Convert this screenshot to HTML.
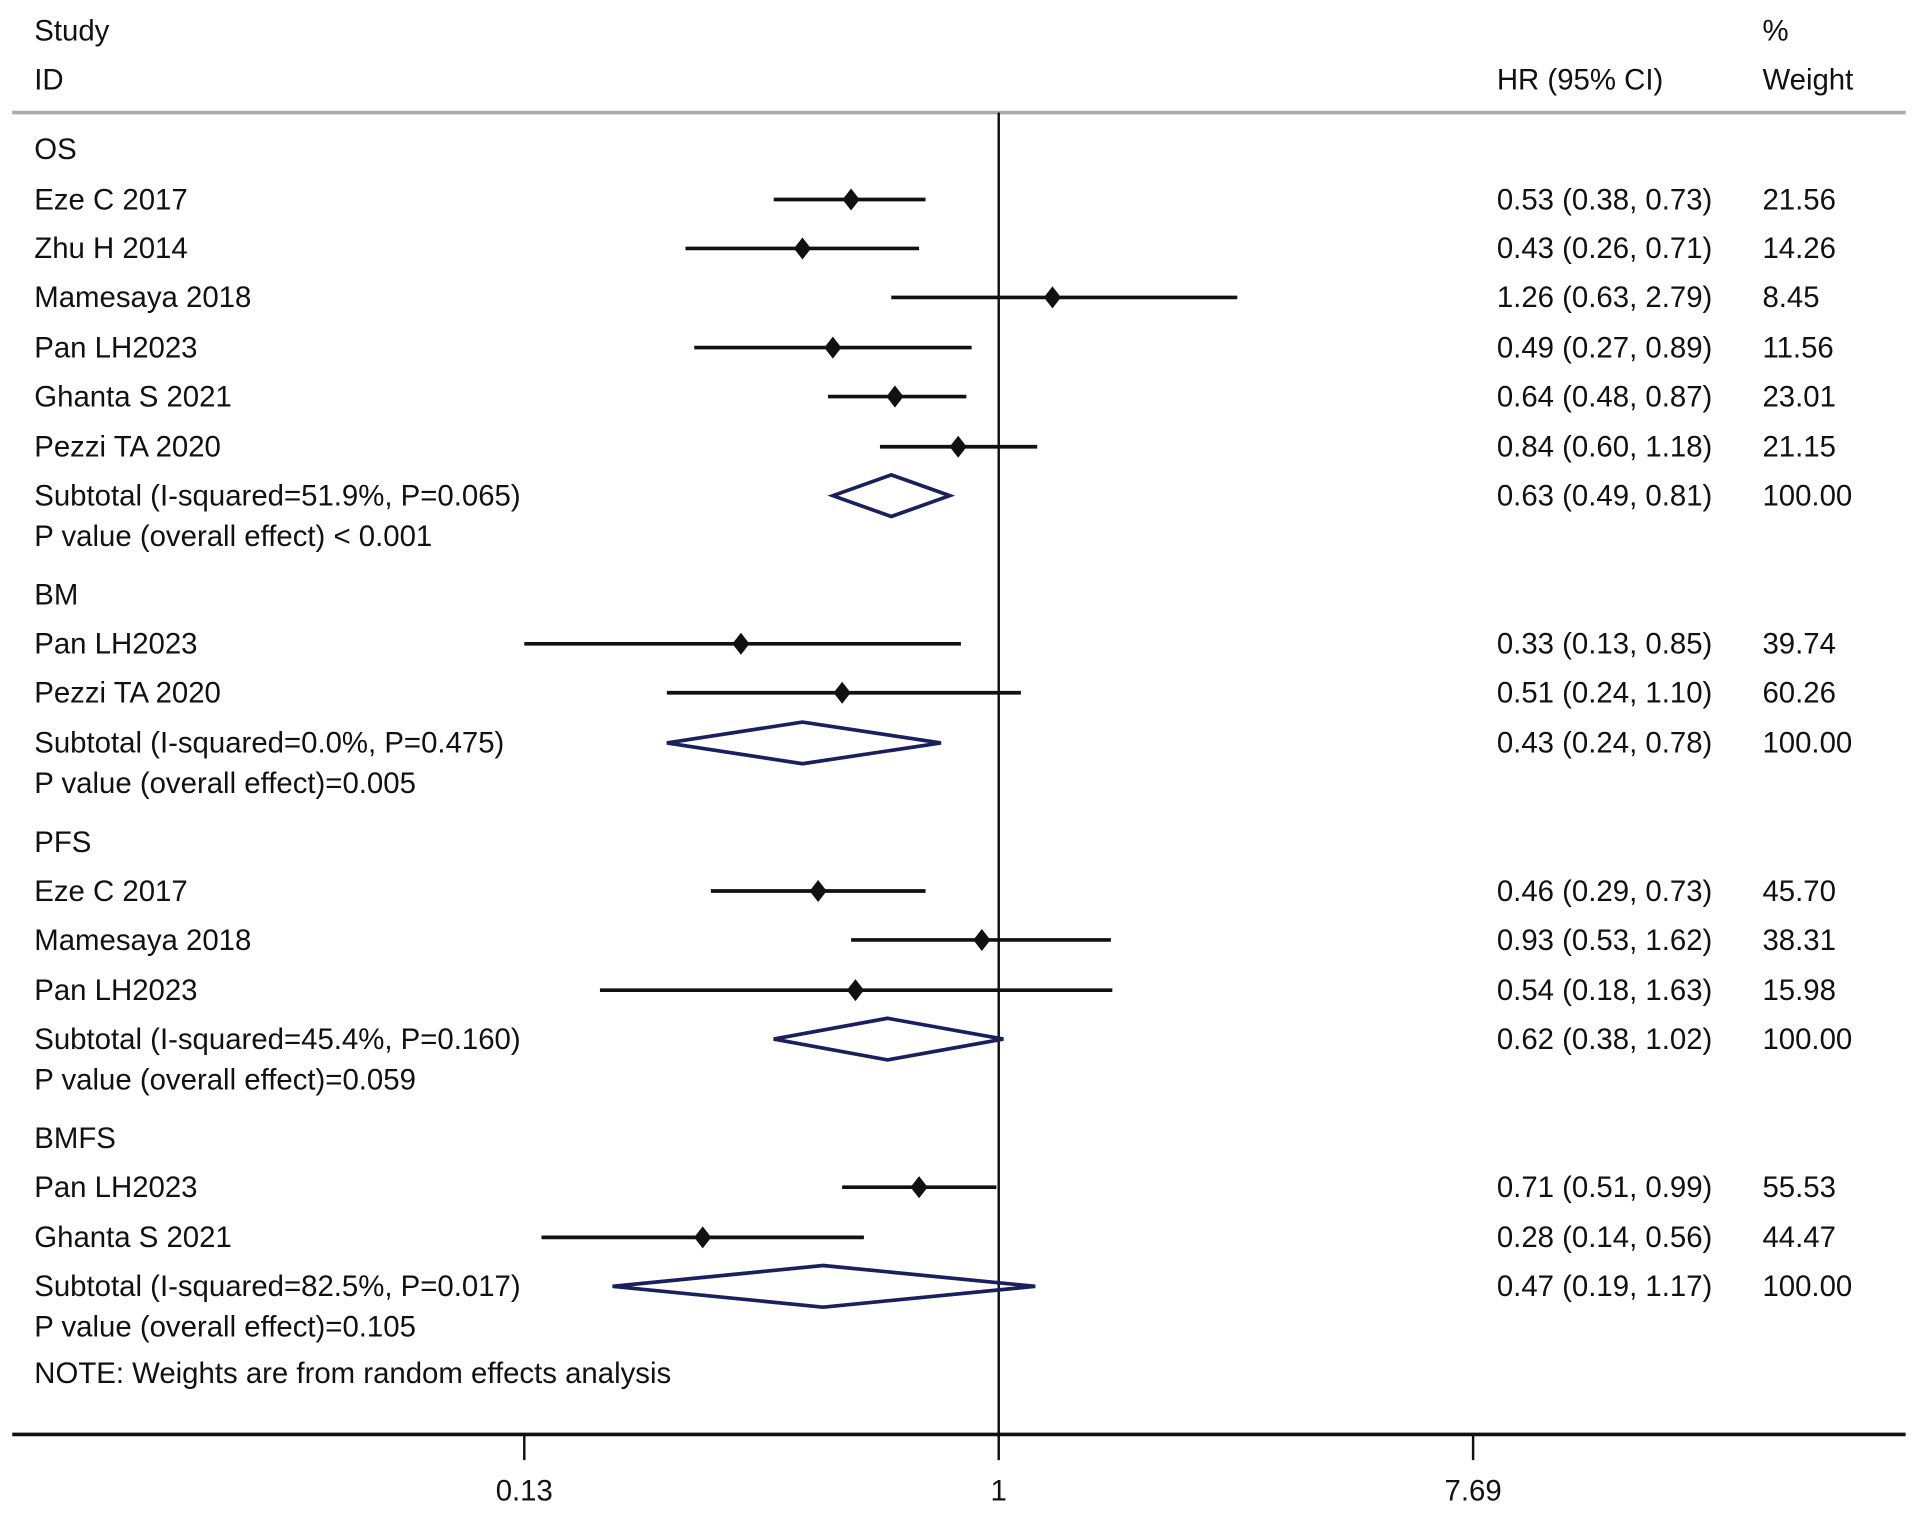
<!DOCTYPE html>
<html><head><meta charset="utf-8"><style>
html,body{margin:0;padding:0;background:#fff;}
svg{display:block;}
text{font-family:"Liberation Sans",Arial,sans-serif;font-size:24px;fill:#111;}
</style></head><body>
<svg id="chart" width="1913" height="1525" viewBox="0 0 1563 1246" xmlns="http://www.w3.org/2000/svg">
<text x="28" y="33">Study</text>
<text x="28" y="73">ID</text>
<text x="1223" y="73">HR (95% CI)</text>
<text x="1440" y="33">%</text>
<text x="1440" y="73">Weight</text>
<line x1="10" y1="92" x2="1557" y2="92" stroke="#aaa" stroke-width="3"/>
<g id="marks"></g>
</svg>
<script>
const rowLabels = ["OS","Eze C 2017","Zhu H 2014","Mamesaya 2018","Pan LH2023","Ghanta S 2021","Pezzi TA 2020","Subtotal  (I-squared=51.9%, P=0.065)","P value (overall effect) < 0.001","BM","Pan LH2023","Pezzi TA 2020","Subtotal  (I-squared=0.0%, P=0.475)","P value (overall effect)=0.005","PFS","Eze C 2017","Mamesaya 2018","Pan LH2023","Subtotal  (I-squared=45.4%, P=0.160)","P value (overall effect)=0.059","BMFS","Pan LH2023","Ghanta S 2021","Subtotal  (I-squared=82.5%, P=0.017)","P value (overall effect)=0.105","NOTE: Weights are from random effects analysis"];
const rowTypes = ["h","s","s","s","s","s","s","d","p","h","s","s","d","p","h","s","s","s","d","p","h","s","s","d","p","n"];
const rowY = [122,163,203,243,284,324,365,405,438,486,526,566,607,640,688,728,768,809,849,882,930,970,1011,1051,1084,1122];
const hr = [null,0.53,0.43,1.26,0.49,0.64,0.84,0.63,null,null,0.33,0.51,0.43,null,null,0.46,0.93,0.54,0.62,null,null,0.71,0.28,0.47,null,null];
const lo = [null,0.38,0.26,0.63,0.27,0.48,0.60,0.49,null,null,0.13,0.24,0.24,null,null,0.29,0.53,0.18,0.38,null,null,0.51,0.14,0.19,null,null];
const hi = [null,0.73,0.71,2.79,0.89,0.87,1.18,0.81,null,null,0.85,1.10,0.78,null,null,0.73,1.62,1.63,1.02,null,null,0.99,0.56,1.17,null,null];
const weights = [null,"21.56","14.26","8.45","11.56","23.01","21.15","100.00",null,null,"39.74","60.26","100.00",null,null,"45.70","38.31","15.98","100.00",null,null,"55.53","44.47","100.00",null,null];
const tickVals = [0.13,1,7.69];
const tickLabels = ["0.13","1","7.69"];

const X0=816, PX=190;
const xs = v => X0 + Math.log(v)*PX;
const g = document.getElementById('marks');
const NS="http://www.w3.org/2000/svg";
function mk(tag, attrs){const e=document.createElementNS(NS,tag);for(const k in attrs)e.setAttribute(k,attrs[k]);g.appendChild(e);return e;}
const f2 = v => v.toFixed(2);

// null line
const nl = mk('line',{x1:X0,y1:92,x2:X0,y2:1172,stroke:'#111','stroke-width':2});



rowLabels.forEach((lab,i)=>{
  const y=rowY[i];
  const t=mk('text',{x:28,y:y+8});
  t.textContent=lab;
  
  
  if(hr[i]!=null){
    const h=mk('text',{x:1223,y:y+8});
    h.textContent=f2(hr[i])+" ("+f2(lo[i])+", "+f2(hi[i])+")";
    
    
    const w=mk('text',{x:1440,y:y+8});
    w.textContent=weights[i];
    
    
  }
  if(rowTypes[i]==='s'){
    const l=mk('line',{x1:xs(lo[i]),y1:y,x2:xs(hi[i]),y2:y,stroke:'#111','stroke-width':3});
    
    
    const cx=xs(hr[i]);
    const p=mk('polygon',{points:`${cx-7},${y} ${cx},${y-9} ${cx+7},${y} ${cx},${y+9}`,fill:'#111'});
    
    
  } else if(rowTypes[i]==='d'){
    const a=xs(lo[i]),b=xs(hi[i]),c=xs(hr[i]);
    const p=mk('polygon',{points:`${a},${y} ${c},${y-17} ${b},${y} ${c},${y+17}`,fill:'none',stroke:'#1a1f5e','stroke-width':3});
    
    
  }
});

const ax=mk('line',{x1:10,y1:1172,x2:1557,y2:1172,stroke:'#111','stroke-width':3});


tickVals.forEach((v,i)=>{
  const tl=mk('line',{x1:xs(v),y1:1172,x2:xs(v),y2:1193,stroke:'#111','stroke-width':2});
  
  
  const tt=mk('text',{x:xs(v),y:1226,'text-anchor':'middle'});
  tt.textContent=tickLabels[i];
  
  
});
</script>
</body></html>
